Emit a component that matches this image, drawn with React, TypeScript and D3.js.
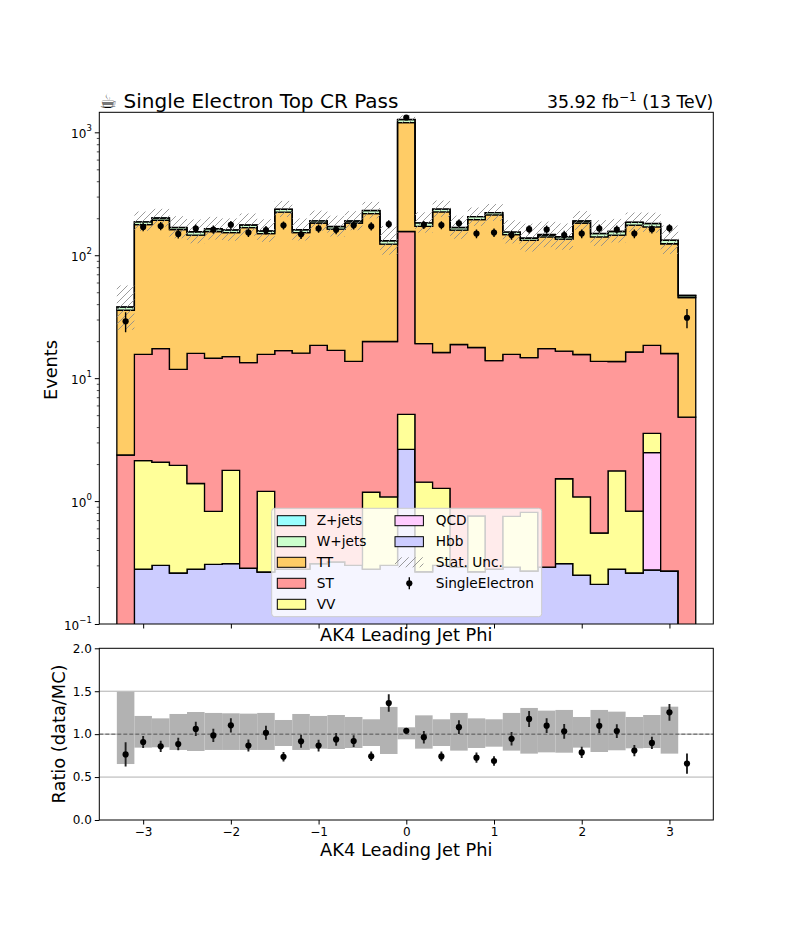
import React, { useRef, useEffect } from "react";
import * as d3 from "d3";

// bin centres of AK4 leading jet phi, width 0.2
const binCenters = [-3.2, -3.0, -2.8, -2.6, -2.4, -2.2, -2.0, -1.8, -1.6, -1.4, -1.2, -1.0, -0.8, -0.6, -0.4, -0.2, 0.0, 0.2, 0.4, 0.6, 0.8, 1.0, 1.2, 1.4, 1.6, 1.8, 2.0, 2.2, 2.4, 2.6, 2.8, 3.0, 3.2];
const binWidth = 0.2;

// per-sample yields (stacked bottom -> top)
const hbb = [0.04, 0.28, 0.30, 0.26, 0.28, 0.305, 0.31, 0.285, 0.265, 0.28, 0.28, 0.31, 0.32, 0.30, 0.28, 0.30, 2.63, 0.266, 0.30, 0.29, 0.266, 0.28, 0.29, 0.27, 0.29, 0.31, 0.25, 0.21, 0.28, 0.26, 0.275, 0.27, 0.03];
const qcd = [0, 0, 0, 0, 0, 0, 0, 0, 0, 0, 0, 0, 0, 0, 0, 0, 0, 0, 0, 0, 0, 0, 0, 0, 0, 0, 0, 0, 0, 0, 2.2, 0, 0];
const vv = [0.03, 1.85, 1.77, 1.69, 1.11, 0.52, 1.47, 0, 0.935, 0, 0, 0, 0, 0, 0.90, 0.78, 2.44, 1.16, 0.97, 0, 0.49, 0, 0.46, 0.54, 0, 1.21, 0.83, 0.34, 1.48, 0.57, 1.08, 0, 0.02];
const st = [2.30, 13.5, 15.3, 9.85, 14.5, 13.7, 13.2, 13.1, 14.4, 16.5, 15.7, 18.2, 16.5, 13.4, 18.7, 18.8, 151, 17.7, 14.9, 18.5, 17.0, 13.6, 14.85, 13.9, 17.1, 15.1, 14.5, 13.15, 11.9, 15.5, 14.95, 15.6, 4.77];
const tt = [33.3, 162.1, 175.2, 150.0, 129.6, 141.5, 138.0, 154.6, 134.4, 207.2, 137.0, 164.5, 146.2, 169.3, 198.1, 103.1, 1043, 152.9, 208.8, 141.2, 177.2, 199.1, 131.4, 117.3, 123.6, 118.4, 167.4, 127.3, 132.3, 159.7, 151.5, 108.1, 40.5];
const wjets = [2.1, 8.9, 8.4, 6.2, 9.5, 8.0, 7.0, 8.0, 7.0, 12, 8.0, 7.0, 8.0, 7.0, 13, 8, 69, 11, 12, 8, 11, 9, 7, 5, 5, 6, 7, 9, 10, 9, 11, 8, 1.7];
const zjets = [0.2, 0.5, 0.5, 0.4, 0.5, 0.4, 0.5, 0.4, 0.4, 1.5, 0.5, 0.4, 0.5, 0.4, 0.6, 0.4, 3.0, 0.5, 0.6, 0.4, 0.5, 0.6, 0.4, 1.5, 1.5, 0.4, 0.5, 0.4, 0.5, 0.5, 0.5, 0.4, 0.1];

// SingleElectron data counts
const dataCounts = [29, 170, 173, 149, 165, 162, 177, 153, 160, 175, 148, 165, 161, 175, 172, 179, 1320, 177, 176, 182, 150, 153, 146, 163, 162, 146, 150, 165, 162, 150, 163, 166, 31];

// MC stat. uncertainty, as ratio to total MC (last bin has none)
const uncLow = [0.652, 0.843, 0.847, 0.816, 0.804, 0.816, 0.816, 0.816, 0.816, 0.862, 0.816, 0.831, 0.827, 0.839, 0.862, 0.769, 0.940, 0.831, 0.862, 0.808, 0.839, 0.854, 0.808, 0.773, 0.788, 0.784, 0.843, 0.792, 0.812, 0.835, 0.839, 0.773, null];
const uncHigh = [1.495, 1.212, 1.184, 1.235, 1.258, 1.247, 1.243, 1.239, 1.247, 1.165, 1.235, 1.212, 1.223, 1.200, 1.173, 1.317, 1.080, 1.219, 1.173, 1.247, 1.184, 1.173, 1.247, 1.305, 1.274, 1.282, 1.200, 1.282, 1.262, 1.200, 1.223, 1.320, null];

const sampleKeys = ["Hbb", "QCD", "VV", "ST", "TT", "W+jets", "Z+jets"];
const sampleColors: Record<string, string> = {
    "Hbb": "#ccccff",
    "QCD": "#ffccff",
    "VV": "#ffff99",
    "ST": "#ff9999",
    "TT": "#ffcc66",
    "W+jets": "#ccffcc",
    "Z+jets": "#99ffff",
};

const xTicks = [-3, -2, -1, 0, 1, 2, 3];
const ratioTicks = [0, 0.5, 1, 1.5, 2];
const logMajors = [0.1, 1, 10, 100, 1000];

const FONT = "DejaVu Sans, Verdana, sans-serif";

export default function App() {
    const svgRef = useRef<SVGSVGElement>(null);

    useEffect(() => {
        if (!svgRef.current) return;
        const svg = d3.select(svgRef.current);
        svg.selectAll("*").remove();

        const left = 99.3, right = 713.3;
        const top = 112.3, bottom = 624;
        const rTop = 648.3, rBottom = 820;

        const x = d3.scaleLinear().domain([-3.5, 3.5]).range([left, right]);
        const y = d3.scaleLog().domain([0.1, 1455]).range([bottom, top]);
        const yr = d3.scaleLinear().domain([0, 2]).range([rBottom, rTop]);

        const defs = svg.append("defs");
        defs.append("clipPath").attr("id", "clipMain")
            .append("rect").attr("x", left).attr("y", top).attr("width", right - left).attr("height", bottom - top);
        defs.append("clipPath").attr("id", "clipRatio")
            .append("rect").attr("x", left).attr("y", rTop).attr("width", right - left).attr("height", rBottom - rTop);

        const hs = 7;
        const hatch = defs.append("pattern")
            .attr("id", "hatch")
            .attr("patternUnits", "userSpaceOnUse")
            .attr("width", hs).attr("height", hs);
        [[-1, 1, 1, -1], [0, hs, hs, 0], [hs - 1, hs + 1, hs + 1, hs - 1]].forEach(([x1, y1, x2, y2]) => {
            hatch.append("line")
                .attr("x1", x1).attr("y1", y1).attr("x2", x2).attr("y2", y2)
                .attr("stroke", "#8a8a8a").attr("stroke-width", 0.85);
        });

        // Stack
        const rows = binCenters.map((c, i) => ({
            center: c,
            "Hbb": hbb[i], "QCD": qcd[i], "VV": vv[i], "ST": st[i],
            "TT": tt[i], "W+jets": wjets[i], "Z+jets": zjets[i],
        }));
        const series = d3.stack<any>().keys(sampleKeys)(rows);
        const totals = rows.map((_, i) => series[series.length - 1][i][1]);

        const floor = (v: number) => Math.max(v, 1e-3);
        const area = d3.area<any>()
            .x(p => x(p.x))
            .y0(p => y(floor(p.y0)))
            .y1(p => y(floor(p.y1)));

        const main = svg.append("g").attr("clip-path", "url(#clipMain)");

        series.forEach(s => {
            const pts = s.flatMap((d: any) => [
                { x: d.data.center - binWidth / 2, y0: d[0], y1: d[1] },
                { x: d.data.center + binWidth / 2, y0: d[0], y1: d[1] },
            ]);
            main.append("path")
                .attr("d", area(pts))
                .attr("fill", sampleColors[s.key])
                .attr("stroke", "#000")
                .attr("stroke-width", 1.3)
                .attr("stroke-linejoin", "miter");
        });

        // Stat. unc. hatch
        binCenters.forEach((c, i) => {
            if (uncLow[i] == null || uncHigh[i] == null) return;
            const yHi = y(totals[i] * (uncHigh[i] as number));
            const yLo = y(totals[i] * (uncLow[i] as number));
            main.append("rect")
                .attr("x", x(c - binWidth / 2))
                .attr("y", yHi)
                .attr("width", x(c + binWidth / 2) - x(c - binWidth / 2))
                .attr("height", yLo - yHi)
                .attr("fill", "url(#hatch)");
        });

        // Data points
        binCenters.forEach((c, i) => {
            const n = dataCounts[i];
            const e = Math.sqrt(n);
            main.append("line")
                .attr("x1", x(c)).attr("x2", x(c))
                .attr("y1", y(n + e)).attr("y2", y(Math.max(n - e, 1e-3)))
                .attr("stroke", "#000").attr("stroke-width", 1.4);
            main.append("circle")
                .attr("cx", x(c)).attr("cy", y(n)).attr("r", 3.1)
                .attr("fill", "#000");
        });

        // Frame main
        svg.append("rect")
            .attr("x", left).attr("y", top)
            .attr("width", right - left).attr("height", bottom - top)
            .attr("fill", "none").attr("stroke", "#000").attr("stroke-width", 1);

        // Main x ticks (no labels)
        svg.append("g")
            .attr("transform", `translate(0,${bottom})`)
            .call(d3.axisBottom(x).tickValues(xTicks).tickSize(4.5).tickFormat(() => ""))
            .call(g => g.select(".domain").remove());

        // Main y ticks (log)
        const minors: number[] = [];
        [0.1, 1, 10, 100, 1000].forEach(dec => {
            for (let k = 2; k <= 9; k++) {
                const v = dec * k;
                if (v < 1455) minors.push(v);
            }
        });
        svg.append("g")
            .attr("transform", `translate(${left},0)`)
            .call(d3.axisLeft(y).tickValues(minors).tickSize(2.5).tickFormat(() => ""))
            .call(g => g.select(".domain").remove())
            .selectAll("line").attr("stroke-width", 0.7);
        svg.append("g")
            .attr("transform", `translate(${left},0)`)
            .call(d3.axisLeft(y).tickValues(logMajors).tickSize(4.5).tickFormat(() => ""))
            .call(g => g.select(".domain").remove());

        logMajors.forEach(v => {
            const exp = Math.round(Math.log10(v));
            const t = svg.append("text")
                .attr("x", left - 7.5)
                .attr("y", y(v) + 5.5)
                .attr("text-anchor", "end")
                .attr("font-family", FONT)
                .attr("font-size", 12)
                .attr("fill", "#000");
            t.append("tspan").text("10");
            t.append("tspan")
                .attr("dy", -6.5)
                .attr("font-size", 8.5)
                .text(exp < 0 ? `\u2212${-exp}` : `${exp}`);
        });

        // Titles
        svg.append("text")
            .attr("x", left).attr("y", 108)
            .attr("font-family", FONT).attr("font-size", 20)
            .text("\u2615 Single Electron Top CR Pass");

        const rt = svg.append("text")
            .attr("x", right).attr("y", 108)
            .attr("text-anchor", "end")
            .attr("font-family", FONT).attr("font-size", 17.3)
            .style("white-space", "pre");
        rt.append("tspan").text("35.92 fb");
        rt.append("tspan").attr("dy", -7).attr("font-size", 12).text("\u22121");
        rt.append("tspan").attr("dy", 7).text(" (13 TeV)");

        // Axis labels
        svg.append("text")
            .attr("transform", `translate(57,370) rotate(-90)`)
            .attr("text-anchor", "middle")
            .attr("font-family", FONT).attr("font-size", 17.8)
            .text("Events");

        svg.append("text")
            .attr("x", x(0)).attr("y", 641)
            .attr("text-anchor", "middle")
            .attr("font-family", FONT).attr("font-size", 17.8)
            .text("AK4 Leading Jet Phi");

        // Ratio panel
        const ratio = svg.append("g").attr("clip-path", "url(#clipRatio)");

        [0.5, 1.0, 1.5].forEach(v => {
            ratio.append("line")
                .attr("x1", left).attr("x2", right)
                .attr("y1", yr(v)).attr("y2", yr(v))
                .attr("stroke", "#b0b0b0").attr("stroke-width", 1);
        });

        binCenters.forEach((c, i) => {
            if (uncLow[i] == null || uncHigh[i] == null) return;
            ratio.append("rect")
                .attr("x", x(c - binWidth / 2))
                .attr("y", yr(uncHigh[i] as number))
                .attr("width", x(c + binWidth / 2) - x(c - binWidth / 2))
                .attr("height", yr(uncLow[i] as number) - yr(uncHigh[i] as number))
                .attr("fill", "#b2b2b2");
        });

        ratio.append("line")
            .attr("x1", left).attr("x2", right)
            .attr("y1", yr(1)).attr("y2", yr(1))
            .attr("stroke", "#555").attr("stroke-width", 1)
            .attr("stroke-dasharray", "4,2");

        binCenters.forEach((c, i) => {
            const r = dataCounts[i] / totals[i];
            const e = Math.sqrt(dataCounts[i]) / totals[i];
            ratio.append("line")
                .attr("x1", x(c)).attr("x2", x(c))
                .attr("y1", yr(r + e)).attr("y2", yr(r - e))
                .attr("stroke", "#222").attr("stroke-width", 1.9);
            ratio.append("circle")
                .attr("cx", x(c)).attr("cy", yr(r)).attr("r", 3.1)
                .attr("fill", "#000");
        });

        svg.append("rect")
            .attr("x", left).attr("y", rTop)
            .attr("width", right - left).attr("height", rBottom - rTop)
            .attr("fill", "none").attr("stroke", "#000").attr("stroke-width", 1);

        const styleAxis = (g: any) => {
            g.select(".domain").remove();
            g.selectAll("text")
                .attr("font-family", FONT)
                .attr("font-size", 12)
                .attr("fill", "#000");
        };

        svg.append("g")
            .attr("transform", `translate(0,${rBottom})`)
            .call(d3.axisBottom(x).tickValues(xTicks).tickSize(4.5).tickPadding(3).tickFormat(d3.format("d") as any))
            .call(styleAxis);

        svg.append("g")
            .attr("transform", `translate(${left},0)`)
            .call(d3.axisLeft(yr).tickValues(ratioTicks).tickSize(4.5).tickPadding(3).tickFormat(d3.format(".1f") as any))
            .call(styleAxis);

        svg.append("text")
            .attr("transform", `translate(65,734) rotate(-90)`)
            .attr("text-anchor", "middle")
            .attr("font-family", FONT).attr("font-size", 17.8)
            .text("Ratio (data/MC)");

        svg.append("text")
            .attr("x", x(0)).attr("y", 856)
            .attr("text-anchor", "middle")
            .attr("font-family", FONT).attr("font-size", 17.8)
            .text("AK4 Leading Jet Phi");

        // Legend
        const lx = 271.7, ly = 508.3, lw = 270, lh = 108.4;
        const legend = svg.append("g");
        legend.append("rect")
            .attr("x", lx).attr("y", ly).attr("width", lw).attr("height", lh)
            .attr("rx", 3).attr("ry", 3)
            .attr("fill", "#fff").attr("fill-opacity", 0.8)
            .attr("stroke", "#cccccc").attr("stroke-width", 1);

        const rowY = [520.7, 541.7, 562.3, 583.3, 604.3];
        const col1 = ["Z+jets", "W+jets", "TT", "ST", "VV"];
        const col2 = ["QCD", "Hbb", "Stat. Unc.", "SingleElectron"];
        const legendText = (tx: number, ty: number, label: string) => {
            legend.append("text")
                .attr("x", tx).attr("y", ty)
                .attr("dy", "0.35em")
                .attr("font-family", FONT).attr("font-size", 13.7)
                .attr("fill", "#000")
                .text(label);
        };

        col1.forEach((k, i) => {
            legend.append("rect")
                .attr("x", 277.3).attr("y", rowY[i] - 5)
                .attr("width", 28.4).attr("height", 10)
                .attr("fill", sampleColors[k])
                .attr("stroke", "#000").attr("stroke-width", 1);
            legendText(316.7, rowY[i], k);
        });

        col2.forEach((k, i) => {
            if (k === "Stat. Unc.") {
                legend.append("rect")
                    .attr("x", 395).attr("y", rowY[i] - 5)
                    .attr("width", 28.4).attr("height", 10)
                    .attr("fill", "url(#hatch)");
            } else if (k === "SingleElectron") {
                legend.append("line")
                    .attr("x1", 409.3).attr("x2", 409.3)
                    .attr("y1", rowY[i] - 6).attr("y2", rowY[i] + 6)
                    .attr("stroke", "#000").attr("stroke-width", 1.4);
                legend.append("circle")
                    .attr("cx", 409.3).attr("cy", rowY[i]).attr("r", 3.1)
                    .attr("fill", "#000");
            } else {
                legend.append("rect")
                    .attr("x", 395).attr("y", rowY[i] - 5)
                    .attr("width", 28.4).attr("height", 10)
                    .attr("fill", sampleColors[k])
                    .attr("stroke", "#000").attr("stroke-width", 1);
            }
            legendText(435.7, rowY[i], k);
        });
    }, []);

    return (
        <div style={{ position: "absolute", left: 0, top: 0 }}>
            <svg ref={svgRef} width={792} height={936} style={{ display: "block", background: "#fff" }} />
        </div>
    );
}
